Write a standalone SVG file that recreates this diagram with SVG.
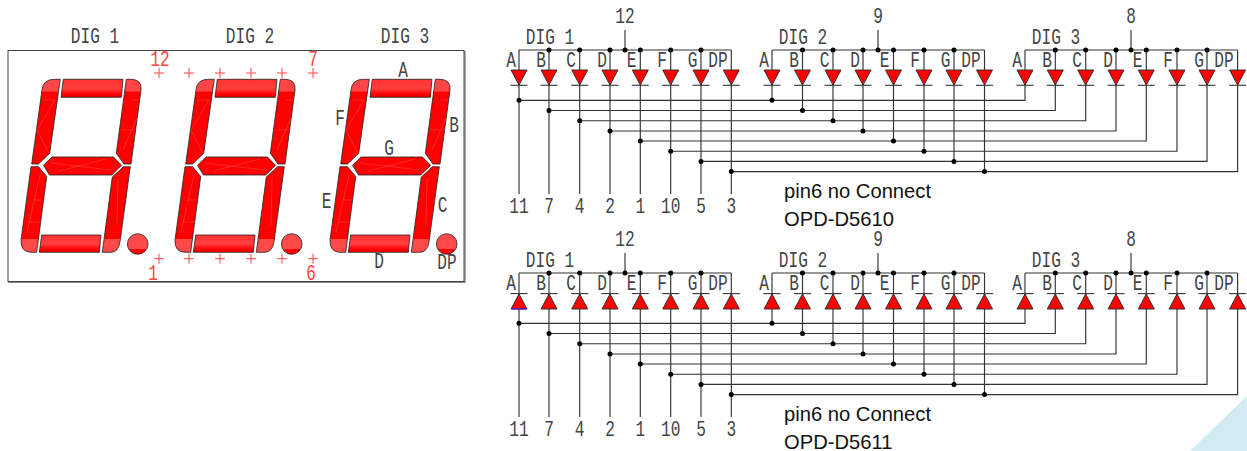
<svg xmlns="http://www.w3.org/2000/svg" width="1247" height="451" viewBox="0 0 1247 451">
<style>
text{font-family:"Liberation Mono",monospace;font-size:21.5px;fill:#444;text-anchor:middle}
text.red{fill:#f44}
text.note{font-family:"Liberation Sans",Arial,sans-serif;font-size:20.2px;fill:#111;text-anchor:start}
.w{fill:none;stroke:#333;stroke-width:1.15}
.dots{fill:none;stroke:#000;stroke-width:5;stroke-linecap:round}
.plus{fill:none;stroke:#f44;stroke-width:1}
.seg{stroke:#222;stroke-width:.8;stroke-linejoin:round}
.mesh{fill:none;stroke:#ff8a8a;stroke-width:.5;opacity:.6}
.bar{fill:none;stroke:#333;stroke-width:1.1}
.tri{fill:#f00;stroke:#333;stroke-width:1}
</style>
<defs>
<linearGradient id="gTop" x1="0" y1="0" x2="0" y2="1"><stop offset="0" stop-color="#ff4545"/><stop offset=".14" stop-color="#ff4545"/><stop offset=".15" stop-color="#f00"/><stop offset="1" stop-color="#f00"/></linearGradient>
<linearGradient id="gBot" x1="0" y1="0" x2="0" y2="1"><stop offset="0" stop-color="#f00"/><stop offset=".84" stop-color="#f00"/><stop offset=".85" stop-color="#ff4a4a"/><stop offset="1" stop-color="#ff4a4a"/></linearGradient>
<linearGradient id="gBar" x1="0" y1="0" x2="0" y2="1"><stop offset="0" stop-color="#ff3030"/><stop offset=".5" stop-color="#ff4040"/><stop offset=".85" stop-color="#f00"/><stop offset="1" stop-color="#e00000"/></linearGradient>
<linearGradient id="gDp" x1="0" y1="0" x2="0" y2="1"><stop offset="0" stop-color="#ff4a4a"/><stop offset=".74" stop-color="#ff4a4a"/><stop offset=".75" stop-color="#f00"/><stop offset="1" stop-color="#f00"/></linearGradient>
<g id="digit">
<path class="seg" fill="url(#gBar)" d="M372.3 79.3H432L430.3 97.3H370Z"/>
<path class="seg" fill="url(#gTop)" d="M369.3 79.3H363.3Q352 79.3 351 90L340.7 164H347.5L358.7 153.3Z"/>
<path class="seg" fill="url(#gTop)" d="M435.3 79.3H440.7Q451 80 450 90L440 164H433L425.3 153.3Z"/>
<path class="seg" fill="#f00" d="M352.5 165.3L361 157H422.5L430.5 165.3L420.7 175H358.5Z"/>
<path class="seg" fill="url(#gBot)" d="M340 166.7H347.5L355.7 176.5L345.7 252.3H340Q329.5 252 330 240Z"/>
<path class="seg" fill="url(#gBot)" d="M432.5 166.7H439.3L429 241.7Q427.5 252 420 252.3H411.3L421.3 177Z"/>
<path class="seg" fill="url(#gBar)" d="M350.7 235H410L408.3 252.3H348.3Z"/>
<circle class="seg" fill="url(#gDp)" cx="446.7" cy="244" r="10.3"/>
<path class="mesh" d="M352 100H364M346 130L358 153M364 100L346 130M441 100H448M430 130H444M432 150L446 118M343 200H352M338 222H350M349 175L336 232M360 163L420 170M368 171L415 159M427 178L426 225"/>
</g>
<g id="dn"><path class="tri" d="M-8 70H8L0 85Z"/><path class="bar" d="M-8.5 85.3H8.5"/></g>
<g id="up"><path class="bar" d="M-8.5 293.6H8.5"/><path class="tri" d="M0 294L8 309H-8Z"/></g>
</defs>
<rect width="1247" height="451" fill="#fff"/>
<path d="M1247 396V451H1190Z" fill="#d2eaf2"/>

<g id="display">
<path d="M8 282.2H465V51" fill="none" stroke="#888" stroke-width="1.4"/>
<rect x="8" y="50.5" width="456" height="231" fill="none" stroke="#444" stroke-width="1"/>
<g id="display-dig1"><use href="#digit" x="-309"/><text transform="translate(95 43) scale(.75 1)">DIG 1</text></g>
<g id="display-dig2"><use href="#digit" x="-155"/><text transform="translate(250 43) scale(.75 1)">DIG 2</text></g>
<g id="display-dig3"><use href="#digit"/><text transform="translate(405 43) scale(.75 1)">DIG 3</text>
<text transform="translate(403 77) scale(.75 1)">A</text>
<text transform="translate(454 131.5) scale(.75 1)">B</text>
<text transform="translate(442.7 212) scale(.75 1)">C</text>
<text transform="translate(379 268) scale(.75 1)">D</text>
<text transform="translate(326.7 208) scale(.75 1)">E</text>
<text transform="translate(340 125) scale(.75 1)">F</text>
<text transform="translate(389 155) scale(.75 1)">G</text>
<text transform="translate(447 269) scale(.75 1)">DP</text></g>
<g id="pin-marks">
<path class="plus" d="M154 73H164M159 68V78M184 73H194M189 68V78M215 73H225M220 68V78M246 73H256M251 68V78M277 73H287M282 68V78M308 73H318M313 68V78M154 258.7H164M159 253.7V263.7M184 258.7H194M189 253.7V263.7M215 258.7H225M220 253.7V263.7M246 258.7H256M251 253.7V263.7M277 258.7H287M282 253.7V263.7M308 258.7H318M313 253.7V263.7"/>
<text class="red" transform="translate(160 65.7) scale(.75 1)">12</text>
<text class="red" transform="translate(313 65.7) scale(.75 1)">7</text>
<text class="red" transform="translate(153 280) scale(.75 1)">1</text>
<text class="red" transform="translate(311 280) scale(.75 1)">6</text>
</g>
</g>

<g id="connectors">
<g id="wires-d5610">
<path class="w" d="M519 50H731.3M772 50H984.5M1025 50H1237.6M625 30V50M878 30V50M1131 30V50"/>
<path class="w" d="M519 50V194M519 100.3H1025V50M772 100.3V50"/>
<path class="w" d="M549 50V194M549 110.5H1055.3V50M802.5 110.5V50"/>
<path class="w" d="M579.7 50V194M579.7 120.7H1085.7V50M833 120.7V50"/>
<path class="w" d="M610 50V194M610 131H1116V50M863 131V50"/>
<path class="w" d="M640.3 50V194M640.3 141H1146.3V50M893.5 141V50"/>
<path class="w" d="M670.7 50V194M670.7 151.2H1177V50M924 151.2V50"/>
<path class="w" d="M701 50V194M701 161.4H1207V50M954 161.4V50"/>
<path class="w" d="M731.3 50V194M731.3 171.6H1237.6V50M984.5 171.6V50"/>
<path class="dots" d="M549 50h0M579.7 50h0M610 50h0M625 50h0M640.3 50h0M670.7 50h0M701 50h0M802.5 50h0M833 50h0M863 50h0M878 50h0M893.5 50h0M924 50h0M954 50h0M1055.3 50h0M1085.7 50h0M1116 50h0M1131 50h0M1146.3 50h0M1177 50h0M1207 50h0M519 100.3h0M549 110.5h0M579.7 120.7h0M610 131h0M640.3 141h0M670.7 151.2h0M701 161.4h0M731.3 171.6h0M772 100.3h0M802.5 110.5h0M833 120.7h0M863 131h0M893.5 141h0M924 151.2h0M954 161.4h0M984.5 171.6h0"/>
</g>
<g id="wires-d5611">
<path class="w" d="M519 273H731.3M772 273H984.5M1025 273H1237.6M625 253V273M878 253V273M1131 253V273"/>
<path class="w" d="M519 273V417M519 323.3H1025V273M772 323.3V273"/>
<path class="w" d="M549 273V417M549 333.5H1055.3V273M802.5 333.5V273"/>
<path class="w" d="M579.7 273V417M579.7 343.7H1085.7V273M833 343.7V273"/>
<path class="w" d="M610 273V417M610 354H1116V273M863 354V273"/>
<path class="w" d="M640.3 273V417M640.3 364H1146.3V273M893.5 364V273"/>
<path class="w" d="M670.7 273V417M670.7 374.2H1177V273M924 374.2V273"/>
<path class="w" d="M701 273V417M701 384.4H1207V273M954 384.4V273"/>
<path class="w" d="M731.3 273V417M731.3 394.6H1237.6V273M984.5 394.6V273"/>
<path class="dots" d="M549 273h0M579.7 273h0M610 273h0M625 273h0M640.3 273h0M670.7 273h0M701 273h0M802.5 273h0M833 273h0M863 273h0M878 273h0M893.5 273h0M924 273h0M954 273h0M1055.3 273h0M1085.7 273h0M1116 273h0M1131 273h0M1146.3 273h0M1177 273h0M1207 273h0M519 323.3h0M549 333.5h0M579.7 343.7h0M610 354h0M640.3 364h0M670.7 374.2h0M701 384.4h0M731.3 394.6h0M772 323.3h0M802.5 333.5h0M833 343.7h0M863 354h0M893.5 364h0M924 374.2h0M954 384.4h0M984.5 394.6h0"/>
</g>
</g>

<g id="schematic-d5610">
<text transform="translate(625 23) scale(.75 1)">12</text>
<text transform="translate(878 23) scale(.75 1)">9</text>
<text transform="translate(1131 23) scale(.75 1)">8</text>
<text transform="translate(550 44) scale(.75 1)">DIG 1</text>
<text transform="translate(803 44) scale(.75 1)">DIG 2</text>
<text transform="translate(1056 44) scale(.75 1)">DIG 3</text>
<g id="n1-1A"><use href="#dn" x="519"/><text transform="translate(511 67) scale(.75 1)">A</text></g>
<g id="n1-1B"><use href="#dn" x="549"/><text transform="translate(541 67) scale(.75 1)">B</text></g>
<g id="n1-1C"><use href="#dn" x="579.7"/><text transform="translate(571 67) scale(.75 1)">C</text></g>
<g id="n1-1D"><use href="#dn" x="610"/><text transform="translate(602 67) scale(.75 1)">D</text></g>
<g id="n1-1E"><use href="#dn" x="640.3"/><text transform="translate(631.5 67) scale(.75 1)">E</text></g>
<g id="n1-1F"><use href="#dn" x="670.7"/><text transform="translate(662 67) scale(.75 1)">F</text></g>
<g id="n1-1G"><use href="#dn" x="701"/><text transform="translate(692.5 67) scale(.75 1)">G</text></g>
<g id="n1-1DP"><use href="#dn" x="731.3"/><text transform="translate(718 67) scale(.75 1)">DP</text></g>
<g id="n1-2A"><use href="#dn" x="772"/><text transform="translate(764 67) scale(.75 1)">A</text></g>
<g id="n1-2B"><use href="#dn" x="802.5"/><text transform="translate(794 67) scale(.75 1)">B</text></g>
<g id="n1-2C"><use href="#dn" x="833"/><text transform="translate(824.5 67) scale(.75 1)">C</text></g>
<g id="n1-2D"><use href="#dn" x="863"/><text transform="translate(855 67) scale(.75 1)">D</text></g>
<g id="n1-2E"><use href="#dn" x="893.5"/><text transform="translate(884.5 67) scale(.75 1)">E</text></g>
<g id="n1-2F"><use href="#dn" x="924"/><text transform="translate(915 67) scale(.75 1)">F</text></g>
<g id="n1-2G"><use href="#dn" x="954"/><text transform="translate(945.5 67) scale(.75 1)">G</text></g>
<g id="n1-2DP"><use href="#dn" x="984.5"/><text transform="translate(971 67) scale(.75 1)">DP</text></g>
<g id="n1-3A"><use href="#dn" x="1025"/><text transform="translate(1017 67) scale(.75 1)">A</text></g>
<g id="n1-3B"><use href="#dn" x="1055.3"/><text transform="translate(1047 67) scale(.75 1)">B</text></g>
<g id="n1-3C"><use href="#dn" x="1085.7"/><text transform="translate(1077 67) scale(.75 1)">C</text></g>
<g id="n1-3D"><use href="#dn" x="1116"/><text transform="translate(1108 67) scale(.75 1)">D</text></g>
<g id="n1-3E"><use href="#dn" x="1146.3"/><text transform="translate(1137.5 67) scale(.75 1)">E</text></g>
<g id="n1-3F"><use href="#dn" x="1177"/><text transform="translate(1168 67) scale(.75 1)">F</text></g>
<g id="n1-3G"><use href="#dn" x="1207"/><text transform="translate(1199 67) scale(.75 1)">G</text></g>
<g id="n1-3DP"><use href="#dn" x="1237.6"/><text transform="translate(1224 67) scale(.75 1)">DP</text></g>
<text transform="translate(519 213) scale(.75 1)">11</text>
<text transform="translate(549 213) scale(.75 1)">7</text>
<text transform="translate(579.7 213) scale(.75 1)">4</text>
<text transform="translate(610 213) scale(.75 1)">2</text>
<text transform="translate(640.3 213) scale(.75 1)">1</text>
<text transform="translate(670.7 213) scale(.75 1)">10</text>
<text transform="translate(701 213) scale(.75 1)">5</text>
<text transform="translate(731.3 213) scale(.75 1)">3</text>
<text class="note" x="784" y="198">pin6 no Connect</text>
<text class="note" x="784" y="226">OPD-D5610</text>
</g>

<g id="schematic-d5611">
<text transform="translate(625 246) scale(.75 1)">12</text>
<text transform="translate(878 246) scale(.75 1)">9</text>
<text transform="translate(1131 246) scale(.75 1)">8</text>
<text transform="translate(550 267) scale(.75 1)">DIG 1</text>
<text transform="translate(803 267) scale(.75 1)">DIG 2</text>
<text transform="translate(1056 267) scale(.75 1)">DIG 3</text>
<g id="n2-1A"><use href="#up" x="519"/><path d="M511.5 308.8H527" stroke="#6010c0" stroke-width="1.4"/><text transform="translate(511 290) scale(.75 1)">A</text></g>
<g id="n2-1B"><use href="#up" x="549"/><text transform="translate(541 290) scale(.75 1)">B</text></g>
<g id="n2-1C"><use href="#up" x="579.7"/><text transform="translate(571 290) scale(.75 1)">C</text></g>
<g id="n2-1D"><use href="#up" x="610"/><text transform="translate(602 290) scale(.75 1)">D</text></g>
<g id="n2-1E"><use href="#up" x="640.3"/><text transform="translate(631.5 290) scale(.75 1)">E</text></g>
<g id="n2-1F"><use href="#up" x="670.7"/><text transform="translate(662 290) scale(.75 1)">F</text></g>
<g id="n2-1G"><use href="#up" x="701"/><text transform="translate(692.5 290) scale(.75 1)">G</text></g>
<g id="n2-1DP"><use href="#up" x="731.3"/><text transform="translate(718 290) scale(.75 1)">DP</text></g>
<g id="n2-2A"><use href="#up" x="772"/><text transform="translate(764 290) scale(.75 1)">A</text></g>
<g id="n2-2B"><use href="#up" x="802.5"/><text transform="translate(794 290) scale(.75 1)">B</text></g>
<g id="n2-2C"><use href="#up" x="833"/><text transform="translate(824.5 290) scale(.75 1)">C</text></g>
<g id="n2-2D"><use href="#up" x="863"/><text transform="translate(855 290) scale(.75 1)">D</text></g>
<g id="n2-2E"><use href="#up" x="893.5"/><text transform="translate(884.5 290) scale(.75 1)">E</text></g>
<g id="n2-2F"><use href="#up" x="924"/><text transform="translate(915 290) scale(.75 1)">F</text></g>
<g id="n2-2G"><use href="#up" x="954"/><text transform="translate(945.5 290) scale(.75 1)">G</text></g>
<g id="n2-2DP"><use href="#up" x="984.5"/><text transform="translate(971 290) scale(.75 1)">DP</text></g>
<g id="n2-3A"><use href="#up" x="1025"/><text transform="translate(1017 290) scale(.75 1)">A</text></g>
<g id="n2-3B"><use href="#up" x="1055.3"/><text transform="translate(1047 290) scale(.75 1)">B</text></g>
<g id="n2-3C"><use href="#up" x="1085.7"/><text transform="translate(1077 290) scale(.75 1)">C</text></g>
<g id="n2-3D"><use href="#up" x="1116"/><text transform="translate(1108 290) scale(.75 1)">D</text></g>
<g id="n2-3E"><use href="#up" x="1146.3"/><text transform="translate(1137.5 290) scale(.75 1)">E</text></g>
<g id="n2-3F"><use href="#up" x="1177"/><text transform="translate(1168 290) scale(.75 1)">F</text></g>
<g id="n2-3G"><use href="#up" x="1207"/><text transform="translate(1199 290) scale(.75 1)">G</text></g>
<g id="n2-3DP"><use href="#up" x="1237.6"/><text transform="translate(1224 290) scale(.75 1)">DP</text></g>
<text transform="translate(519 436) scale(.75 1)">11</text>
<text transform="translate(549 436) scale(.75 1)">7</text>
<text transform="translate(579.7 436) scale(.75 1)">4</text>
<text transform="translate(610 436) scale(.75 1)">2</text>
<text transform="translate(640.3 436) scale(.75 1)">1</text>
<text transform="translate(670.7 436) scale(.75 1)">10</text>
<text transform="translate(701 436) scale(.75 1)">5</text>
<text transform="translate(731.3 436) scale(.75 1)">3</text>
<text class="note" x="784" y="421">pin6 no Connect</text>
<text class="note" x="784" y="449">OPD-D5611</text>
</g>
</svg>
